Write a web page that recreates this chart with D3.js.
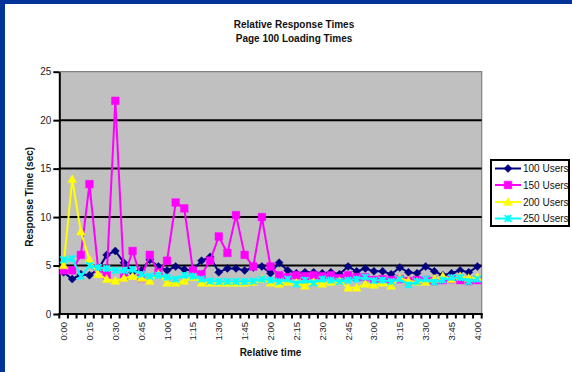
<!DOCTYPE html>
<html>
<head>
<meta charset="utf-8">
<script src="https://cdn.jsdelivr.net/npm/d3@7"></script>
<style>
  html, body { margin: 0; padding: 0; background: #fff; }
  svg { display: block; font-family: Arial, "Liberation Sans", sans-serif; }
</style>
</head>
<body>
<svg id="chart" width="572" height="372"></svg>
<script>
// Sample times, one every 5 minutes
const times = [
  "0:00","0:05","0:10","0:15","0:20","0:25","0:30","0:35","0:40","0:45",
  "0:50","0:55","1:00","1:05","1:10","1:15","1:20","1:25","1:30","1:35",
  "1:40","1:45","1:50","1:55","2:00","2:05","2:10","2:15","2:20","2:25",
  "2:30","2:35","2:40","2:45","2:50","2:55","3:00","3:05","3:10","3:15",
  "3:20","3:25","3:30","3:35","3:40","3:45","3:50","3:55","4:00"
];
const tickLabels = [
  "0:00","0:15","0:30","0:45","1:00","1:15","1:30","1:45","2:00",
  "2:15","2:30","2:45","3:00","3:15","3:30","3:45","4:00"
];
const yTicks = [0, 5, 10, 15, 20, 25];

// Response times in seconds
const users100 = [
  4.3, 3.6, 4.1, 4.0, 4.6, 6.1, 6.5, 5.3, 4.3, 4.5,
  5.6, 4.9, 4.5, 4.9, 4.6, 4.5, 5.5, 5.9, 4.3, 4.7,
  4.7, 4.5, 4.8, 4.9, 4.2, 5.3, 4.5, 4.2, 4.3, 4.3,
  4.2, 4.3, 4.1, 4.9, 4.4, 4.7, 4.4, 4.4, 4.1, 4.8,
  4.3, 4.2, 4.9, 4.4, 4.0, 4.2, 4.5, 4.3, 4.9
];
const users150 = [
  4.5, 4.5, 6.1, 13.4, 4.7, 4.0, 22.0, 3.8, 6.5, 3.7,
  6.1, 4.3, 5.5, 11.5, 10.9, 4.5, 4.1, 5.5, 8.0, 6.3,
  10.2, 6.1, 4.9, 10.0, 4.9, 4.0, 3.8, 4.0, 3.9, 4.0,
  3.9, 4.0, 3.7, 4.0, 3.8, 3.8, 3.5, 3.6, 3.5, 3.6,
  3.4, 3.5, 3.5, 3.4, 3.5, 3.6, 3.5, 3.4, 3.5
];
const users200 = [
  5.0, 13.9, 8.5, 5.6, 4.1, 3.6, 3.4, 3.7, 3.9, 3.7,
  3.4, 4.1, 3.2, 3.2, 3.4, 3.8, 3.2, 3.2, 3.2, 3.2,
  3.2, 3.2, 3.3, 3.6, 3.2, 3.1, 3.3, 3.2, 2.9, 3.3,
  3.1, 3.3, 3.4, 2.7, 2.7, 3.1, 3.0, 3.2, 2.9, 3.7,
  3.4, 3.3, 3.3, 3.6, 3.9, 3.6, 3.9, 3.7, 3.8
];
const users250 = [
  5.6, 5.7, 3.9, 5.0, 4.8, 4.7, 4.5, 4.5, 4.6, 4.1,
  3.9, 4.0, 3.8, 3.6, 4.0, 3.9, 3.6, 3.4, 3.35, 3.35,
  3.35, 3.35, 3.4, 3.6, 3.5, 3.35, 3.6, 3.1, 3.5, 3.2,
  3.6, 3.5, 3.35, 3.5, 3.6, 3.8, 3.45, 3.5, 3.35, 3.6,
  3.0, 3.35, 3.6, 3.3, 3.5, 3.75, 3.75, 3.35, 3.6
];

const seriesNames = ["100 Users", "150 Users", "200 Users", "250 Users"];
const seriesValues = [users100, users150, users200, users250];
const seriesColors = ["#000080", "#FF00FF", "#FFFF00", "#00FFFF"];
const seriesMarkers = ["diamond", "square", "triangle", "cross"];

const svg = d3.select("#chart");

// Frame strips along the top and left edges
svg.append("rect").attr("x", 0).attr("y", 0).attr("width", 572).attr("height", 4).attr("fill", "#003399");
svg.append("rect").attr("x", 0).attr("y", 0).attr("width", 5).attr("height", 372).attr("fill", "#003399");

const plot = { left: 59.3, right: 481.7, top: 71.7, bottom: 314 };

const x = d3.scaleBand().domain(times).range([plot.left, plot.right]).paddingInner(0).paddingOuter(0);
const cx = t => x(t) + x.bandwidth() / 2;
const y = d3.scaleLinear().domain([0, 25]).range([plot.bottom, plot.top]);

// Plot background
svg.append("rect")
  .attr("x", plot.left).attr("y", plot.top)
  .attr("width", plot.right - plot.left).attr("height", plot.bottom - plot.top)
  .attr("fill", "#C0C0C0");
svg.append("path")
  .attr("d", `M${plot.left},${y(25)}H${plot.right}V${plot.bottom}`)
  .attr("fill", "none").attr("stroke", "#808080").attr("stroke-width", 1.2);

// Horizontal gridlines
svg.append("g").selectAll("line")
  .data(yTicks.filter(v => v > 0 && v < 25))
  .join("line")
  .attr("x1", plot.left).attr("x2", plot.right)
  .attr("y1", d => y(d)).attr("y2", d => y(d))
  .attr("stroke", "#000").attr("stroke-width", 2);

// Y axis
const yAxis = svg.append("g")
  .attr("transform", `translate(${plot.left},0)`)
  .call(d3.axisLeft(y).tickValues(yTicks).tickSize(6).tickPadding(2).tickSizeOuter(0));
yAxis.select(".domain").attr("stroke", "#000").attr("stroke-width", 2);
yAxis.selectAll(".tick line").attr("stroke", "#000").attr("stroke-width", 2);
yAxis.selectAll(".tick text")
  .attr("font-size", 10).attr("fill", "#222")
  .attr("font-family", "Arial, 'Liberation Sans', sans-serif");

// X axis: tick marks on category boundaries, labels every 15 minutes
const boundaries = times.map(t => x(t)).concat([plot.right]);
svg.append("g").selectAll("line")
  .data(boundaries)
  .join("line")
  .attr("x1", d => d).attr("x2", d => d)
  .attr("y1", plot.bottom).attr("y2", plot.bottom + 4.5)
  .attr("stroke", "#000").attr("stroke-width", 2);
svg.append("line")
  .attr("x1", plot.left - 1).attr("x2", plot.right + 1)
  .attr("y1", plot.bottom).attr("y2", plot.bottom)
  .attr("stroke", "#000").attr("stroke-width", 2);

const xAxis = svg.append("g")
  .attr("transform", `translate(0,${plot.bottom})`)
  .call(d3.axisBottom(x).tickValues(tickLabels).tickSize(0).tickPadding(0));
xAxis.select(".domain").remove();
xAxis.selectAll(".tick text")
  .attr("font-size", 9.5).attr("fill", "#222")
  .attr("font-family", "Arial, 'Liberation Sans', sans-serif")
  .attr("text-anchor", "end")
  .attr("dy", null)
  .attr("transform", "translate(3.5,8) rotate(-90)");

// Series lines and markers
const line = d3.line().x((d, i) => cx(times[i])).y(d => y(d));

function markerPath(type) {
  if (type === "diamond") return "M0,-4L4,0L0,4L-4,0Z";
  if (type === "square") return "M-3.8,-3.8H3.8V3.8H-3.8Z";
  if (type === "triangle") return "M0,-4.5L4.3,3.3H-4.3Z";
  return "M-3.3,-3.3L3.3,3.3M3.3,-3.3L-3.3,3.3M0,-3.3V3.3";
}

seriesValues.forEach((vals, s) => {
  const g = svg.append("g");
  g.append("path")
    .datum(vals)
    .attr("d", line)
    .attr("fill", "none")
    .attr("stroke", seriesColors[s])
    .attr("stroke-width", 2)
    .attr("stroke-linejoin", "round");
  g.selectAll("path.mk")
    .data(vals)
    .join("path")
    .attr("class", "mk")
    .attr("transform", (d, i) => `translate(${cx(times[i])},${y(d)})`)
    .attr("d", markerPath(seriesMarkers[s]))
    .attr("fill", seriesMarkers[s] === "cross" ? "none" : seriesColors[s])
    .attr("stroke", seriesColors[s])
    .attr("stroke-width", seriesMarkers[s] === "cross" ? 1.8 : 0.5);
});

// Titles
svg.append("text").attr("x", 294).attr("y", 28)
  .attr("text-anchor", "middle").attr("font-size", 10).attr("font-weight", "bold").attr("fill", "#111")
  .text("Relative Response Times");
svg.append("text").attr("x", 294).attr("y", 42)
  .attr("text-anchor", "middle").attr("font-size", 10).attr("font-weight", "bold").attr("fill", "#111")
  .text("Page 100 Loading Times");
svg.append("text")
  .attr("transform", `translate(33,${(plot.top + plot.bottom) / 2 + 4}) rotate(-90)`)
  .attr("text-anchor", "middle").attr("font-size", 10).attr("font-weight", "bold").attr("fill", "#111")
  .text("Response Time (sec)");
svg.append("text").attr("x", (plot.left + plot.right) / 2).attr("y", 356)
  .attr("text-anchor", "middle").attr("font-size", 10).attr("font-weight", "bold").attr("fill", "#111")
  .text("Relative time");

// Legend
const legend = svg.append("g");
legend.append("rect")
  .attr("x", 491).attr("y", 160).attr("width", 78).attr("height", 66)
  .attr("fill", "#fff").attr("stroke", "#000").attr("stroke-width", 2);
const rowsY = [168.5, 185, 202, 218.5];
const items = legend.selectAll("g.item")
  .data(seriesNames)
  .join("g")
  .attr("class", "item")
  .attr("transform", (d, i) => `translate(0,${rowsY[i]})`);
items.append("line")
  .attr("x1", 495).attr("x2", 521).attr("y1", 0).attr("y2", 0)
  .attr("stroke", (d, i) => seriesColors[i]).attr("stroke-width", 2);
items.append("path")
  .attr("transform", "translate(508,0)")
  .attr("d", (d, i) => markerPath(seriesMarkers[i]))
  .attr("fill", (d, i) => seriesMarkers[i] === "cross" ? "none" : seriesColors[i])
  .attr("stroke", (d, i) => seriesColors[i])
  .attr("stroke-width", (d, i) => seriesMarkers[i] === "cross" ? 1.8 : 0.5);
items.append("text")
  .attr("x", 523).attr("y", 3.6)
  .attr("font-size", 10).attr("fill", "#111")
  .text(d => d);
</script>
</body>
</html>
